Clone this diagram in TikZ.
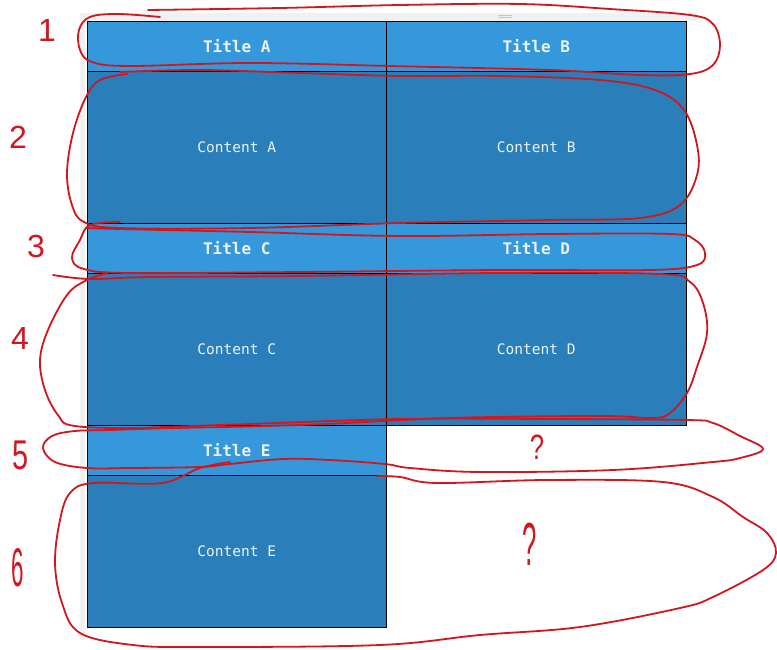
\documentclass[tikz,border=0pt]{standalone}
\usepackage{fontspec}
\setmonofont{DejaVu Sans Mono}
\newfontfamily\handfont{Liberation Sans}
\usetikzlibrary{positioning}

\definecolor{titleblue}{HTML}{3498DB}
\definecolor{cellblue}{HTML}{2A7FBA}
\definecolor{celltext}{HTML}{EAF3FA}
\definecolor{penred}{HTML}{D2161E}
\definecolor{framegray}{HTML}{F1F1F1}

\tikzset{
  titlecell/.style={draw=black, line width=0.8pt, fill=titleblue, text=celltext,
    minimum width=299.5pt, minimum height=50.5pt, inner sep=0pt, outer sep=0pt,
    font=\ttfamily\bfseries\fontsize{16}{18}\selectfont},
  bodycell/.style={draw=black, line width=0.8pt, fill=cellblue, text=celltext,
    minimum width=299.5pt, minimum height=151.5pt, inner sep=0pt, outer sep=0pt,
    font=\ttfamily\fontsize{14.5}{17}\selectfont},
  pen/.style={draw=penred, line width=1.8pt, line cap=round, line join=round},
  penmark/.style={text=penred, font=\handfont\fontsize{32}{32}\selectfont, inner sep=0pt}
}

\begin{document}
\begin{tikzpicture}[x=1pt, y=-1pt]
  \useasboundingbox (0,0) rectangle (777,650);

  % frame %
  \fill[framegray] (80,13) rectangle (697,21);
  \fill[framegray] (80,13) rectangle (85,640);
  \draw[gray!45, line width=0.7pt] (498,15) -- (512,15);
  \draw[gray!45, line width=0.7pt] (498,17.5) -- (512,17.5);

  % nodes %
  \node[titlecell] (ta) at (236.75,46.25) {Title A};
  \node[titlecell, right=0pt of ta] (tb) {Title B};
  \node[bodycell, below=0pt of ta] (ca) {Content A};
  \node[bodycell, below=0pt of tb] (cb) {Content B};
  \node[titlecell, below=0pt of ca] (tc) {Title C};
  \node[titlecell, below=0pt of cb] (td) {Title D};
  \node[bodycell, below=0pt of tc] (cc) {Content C};
  \node[bodycell, below=0pt of td] (cd) {Content D};
  \node[titlecell, below=0pt of cc] (te) {Title E};
  \node[bodycell, below=0pt of te] (ce) {Content E};

  % marks %
  \node[penmark] (n1) at (47,30) {1};
  \node[penmark] (n2) at (18,137) {2};
  \node[penmark] (n3) at (36,246) {3};
  \node[penmark] (n4) at (20,338) {4};
  \node[penmark] (n5) at (21,455) {\scalebox{0.9}[1.3]{5}};
  \node[penmark] (n6) at (18,568) {\scalebox{0.7}[1.7]{6}};
  \node[penmark] (q1) at (537,447) {\scalebox{0.8}[1.1]{?}};
  \node[penmark] (q2) at (530,544) {\scalebox{0.8}[1.9]{?}};

  % loops %
  \draw[pen] plot[smooth, tension=0.6] coordinates {(160,17) (118,14) (90,17) (79,30) (80,50)
    (92,62) (130,66) (250,63) (390,66) (550,70) (640,75) (690,74) (713,65) (720,45)
    (713,24) (690,15) (610,9) (520,4) (400,5) (280,8) (148,10)};
  \draw[pen] plot[smooth, tension=0.6] coordinates {(127,74) (100,80) (86,97) (73,133) (67,173)
    (72,205) (84,222) (120,228) (250,228) (400,223) (550,220) (640,218) (680,205)
    (697,175) (697,145) (684,110) (655,90) (600,80) (500,76) (400,76) (300,73) (200,70) (120,72)};
  \draw[pen] plot[smooth, tension=0.6] coordinates {(120,222) (90,225) (80,240) (72,258) (84,269)
    (130,273) (300,272) (500,270) (650,270) (697,265) (705,253) (695,240) (670,234)
    (550,234) (400,236) (250,232) (120,229) (87,228)};
  \draw[pen] plot[smooth, tension=0.6] coordinates {(107,273) (85,281) (67,295) (48,330) (40,360)
    (45,390) (58,415) (75,426) (150,428) (300,425) (450,418) (600,416) (653,418) (670,413)
    (687,393) (697,367) (707,333) (703,303) (690,282) (660,274) (500,273) (300,276)
    (150,277) (90,279) (53,275)};
  \draw[pen] plot[smooth, tension=0.6] coordinates {(108,429) (250,424) (400,419) (550,419)
    (687,420) (713,423) (740,436) (763,449) (740,458) (713,462) (613,470) (480,472)
    (410,468) (385,464) (330,460) (283,459) (230,464) (200,467) (130,468) (87,468)
    (55,462) (43,448) (52,436) (75,431) (110,430) (200,427)};
  \draw[pen] plot[smooth, tension=0.6] coordinates {(377,476) (400,477) (437,483) (547,480)
    (663,482) (713,497) (743,517) (767,533) (776,553) (763,570) (713,597) (680,608)
    (580,627) (480,635) (380,645) (200,647) (133,645) (80,633) (62,603) (55,563)
    (60,520) (70,493) (93,483) (162,483) (200,468) (230,462)};
\end{tikzpicture}
\end{document}
